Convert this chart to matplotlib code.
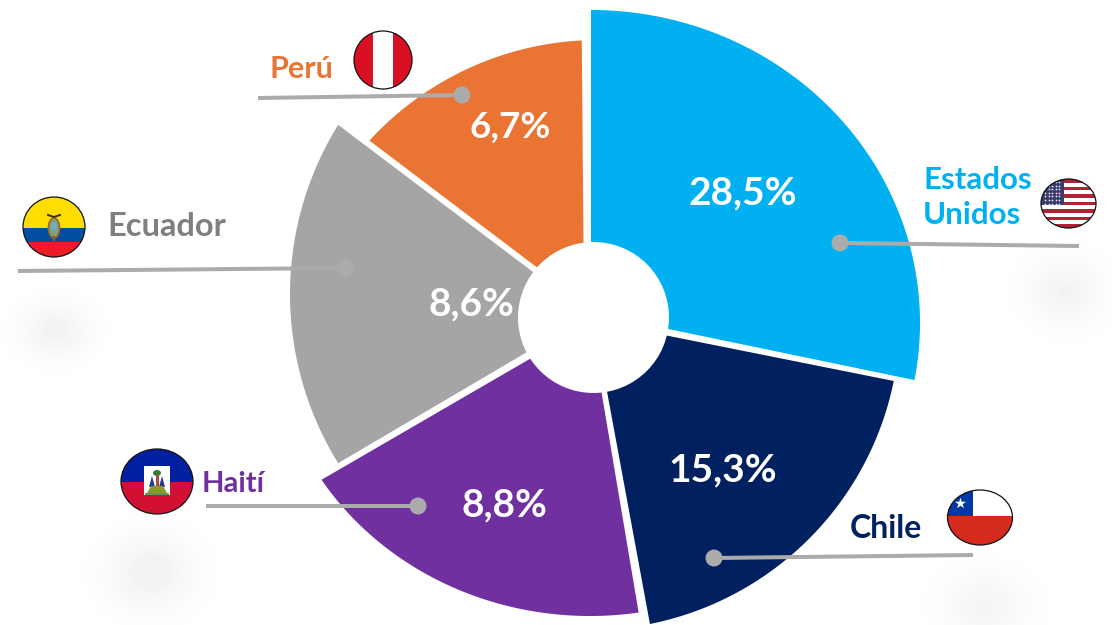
import numpy as np
import matplotlib
matplotlib.use("Agg")
import matplotlib.pyplot as plt
from matplotlib.patches import Polygon, Ellipse, Rectangle, Circle

plt.rcParams['font.family'] = ['Lato', 'DejaVu Sans']

# ---- data ----
countries = ['Estados Unidos', 'Chile', 'Haití', 'Ecuador', 'Perú']
shares = [28.5, 15.3, 8.8, 8.6, 6.7]
colors = ['#00B0F0', '#002060', '#7030A0', '#A5A5A5', '#EA7433']
# arc extent of each wedge as drawn in the picture (degrees, counter-clockwise)
arc_start = [-10.5, -78.7, 212.4, 148.2, 93.0]
arc_end = [90.0, -11.5, 278.8, 211.8, 137.5]

# ---- layout (pixels) ----
W, H = 1112, 625
apex = [(591, 313), (594, 321), (590, 324), (590, 315), (584, 303)]
arc_center = [(591, 323), (589, 319), (590, 322.5), (611, 294), (598, 350)]
arc_radius = [(329, 313), (311, 311), (318, 293.5), (321, 321), (310, 310)]
value_pos = [(743, 193), (723, 470), (504, 505), (471, 304), (510, 127)]
value_size = [28, 28, 28, 28, 26.5]
dots = [(840, 243), (714, 558), (418, 506), (345, 268), (462, 95)]
line_ends = [(1079, 246), (973, 555), (206, 506), (18, 271), (258, 98)]

fig = plt.figure(figsize=(W / 100, H / 100), dpi=100)
ax = fig.add_axes([0, 0, 1, 1])
ax.set_xlim(0, W)
ax.set_ylim(H, 0)
ax.axis('off')

# faint background smudges
yy, xx = np.mgrid[0:H, 0:W]
bg = np.ones((H, W))
for bx, by, sx, sy, amp in [(55, 330, 24, 20, .05), (150, 572, 30, 26, .055),
                            (1065, 290, 26, 24, .045), (985, 605, 30, 24, .04)]:
    bg -= amp * np.exp(-((xx - bx) / sx) ** 2 / 2 - ((yy - by) / sy) ** 2 / 2)
ax.imshow(bg, cmap='gray', vmin=0, vmax=1, extent=(0, W, H, 0), aspect='auto',
          interpolation='bilinear', zorder=0)

# wedges
for i in range(len(shares)):
    t = np.radians(np.linspace(arc_start[i], arc_end[i], 200))
    x = arc_center[i][0] + arc_radius[i][0] * np.cos(t)
    y = arc_center[i][1] - arc_radius[i][1] * np.sin(t)
    verts = np.vstack([[apex[i]], np.column_stack([x, y])])
    ax.add_patch(Polygon(verts, closed=True, fc=colors[i], ec='none', zorder=2))

# centre hole
ax.add_patch(Circle((593.5, 317.5), 75.5, fc='white', ec='none', zorder=3))

# leader lines + dots
for (dx, dy), (lx, ly) in zip(dots, line_ends):
    ax.plot([dx, lx], [dy, ly], color='#ABABAB', lw=2.9, solid_capstyle='butt', zorder=4)
    ax.add_patch(Circle((dx, dy), 8.5, fc='#ABABAB', ec='none', zorder=5))

# value labels
for s, (px, py), fs in zip(shares, value_pos, value_size):
    ax.text(px, py, f'{s:.1f}%'.replace('.', ','), color='white', fontsize=fs,
            fontweight='bold', ha='center', va='center', zorder=6)

# country labels
label_pos = [(923, 180), (850, 529), (202, 484), (107, 227), (269, 69)]
label_text = ['Estados', 'Chile', 'Haití', 'Ecuador', 'Perú']
label_color = ['#00B0F0', '#002060', '#7030A0', '#7F7F7F', '#EA7433']
label_size = [22.5, 23, 21, 23.5, 22]
for txt, (px, py), c, fs in zip(label_text, label_pos, label_color, label_size):
    ax.text(px, py, txt, color=c, fontsize=fs, fontweight='bold', ha='left', va='center', zorder=6)
ax.text(923, 215, 'Unidos', color='#00B0F0', fontsize=22.5, fontweight='bold',
        ha='left', va='center', zorder=6)


# flags
def flag(cx, cy, rx, ry, parts):
    clip = Ellipse((cx, cy), 2 * rx, 2 * ry, fc='white', ec='none', zorder=7)
    ax.add_patch(clip)
    for (x0, y0, x1, y1, c) in parts:
        r = Rectangle((x0, y0), x1 - x0, y1 - y0, fc=c, ec='none', zorder=8)
        ax.add_patch(r)
        r.set_clip_path(clip)
    ax.add_patch(Ellipse((cx, cy), 2 * rx, 2 * ry, fc='none', ec='#111111', lw=0.9, zorder=12))
    return clip


# Peru
flag(383, 60, 29, 29, [(350, 28, 373, 92, '#D91023'), (393, 28, 416, 92, '#D91023')])

# Ecuador
flag(54, 227, 31, 30, [(20, 195, 88, 228, '#FFDD00'), (20, 228, 88, 242, '#034EA2'),
                       (20, 242, 88, 260, '#ED1C24')])
ax.add_patch(Ellipse((54, 228), 11, 20, fc='#7FA27F', ec='#9A6A2A', lw=1.3, zorder=9))
ax.add_patch(Ellipse((54, 226), 6, 8, fc='#6FB0C8', ec='none', zorder=10))
ax.plot([48, 54, 60], [215, 217, 215], color='#3A2E20', lw=1.4, zorder=10)
ax.plot([54, 54], [237, 240], color='#A0522D', lw=1.5, zorder=10)

# Haiti
flag(157, 481.5, 36, 32.5, [(118, 446, 196, 481.5, '#00209F'), (118, 481.5, 196, 518, '#D21034')])
ax.add_patch(Rectangle((144, 466), 26, 29, fc='white', ec='none', zorder=9))
ax.add_patch(Ellipse((157, 473), 8, 6, fc='#2E7D32', ec='none', zorder=10))
ax.add_patch(Polygon([(149, 487), (152, 476), (155, 487)], fc='#1F3C99', ec='none', zorder=10))
ax.add_patch(Polygon([(159, 487), (162, 476), (165, 487)], fc='#1F3C99', ec='none', zorder=10))
ax.add_patch(Rectangle((155.5, 475), 3, 12, fc='#B5473A', ec='none', zorder=10))
ax.add_patch(Polygon([(147, 493), (151, 486), (163, 486), (167, 493)], fc='#8A9A2A', ec='none', zorder=10))
ax.plot([146, 168], [494, 494], color='#2E8B3A', lw=1.2, zorder=10)

# United States
ux, uy, urx, ury = 1068.5, 203.5, 27.5, 24.5
stripes = []
sh = 2 * ury / 13
for k in range(13):
    stripes.append((ux - urx - 1, uy - ury + k * sh, ux + urx + 1, uy - ury + (k + 1) * sh,
                    '#B22234' if k % 2 == 0 else '#FFFFFF'))
stripes.append((ux - urx - 1, uy - ury - 1, 1063.5, 205, '#3C3B6E'))
uclip = flag(ux, uy, urx, ury, stripes)
sx, sy = np.meshgrid(np.arange(1045, 1063, 3.6), np.arange(182, 205, 3.6))
st = ax.scatter(sx.ravel(), sy.ravel(), s=1.6, c='#E6E6F0', marker='o', linewidths=0, zorder=9)
st.set_clip_path(uclip)

# Chile
cclip = flag(980, 517.5, 32.5, 27.5, [(946, 488, 1015, 516, '#FFFFFF'), (946, 516, 1015, 547, '#D52B1E'),
                                      (946, 488, 973, 516, '#0039A6')])
ax.scatter([960], [503], s=70, marker='*', c='white', linewidths=0, zorder=9)

fig.savefig('out.png', dpi=100)
